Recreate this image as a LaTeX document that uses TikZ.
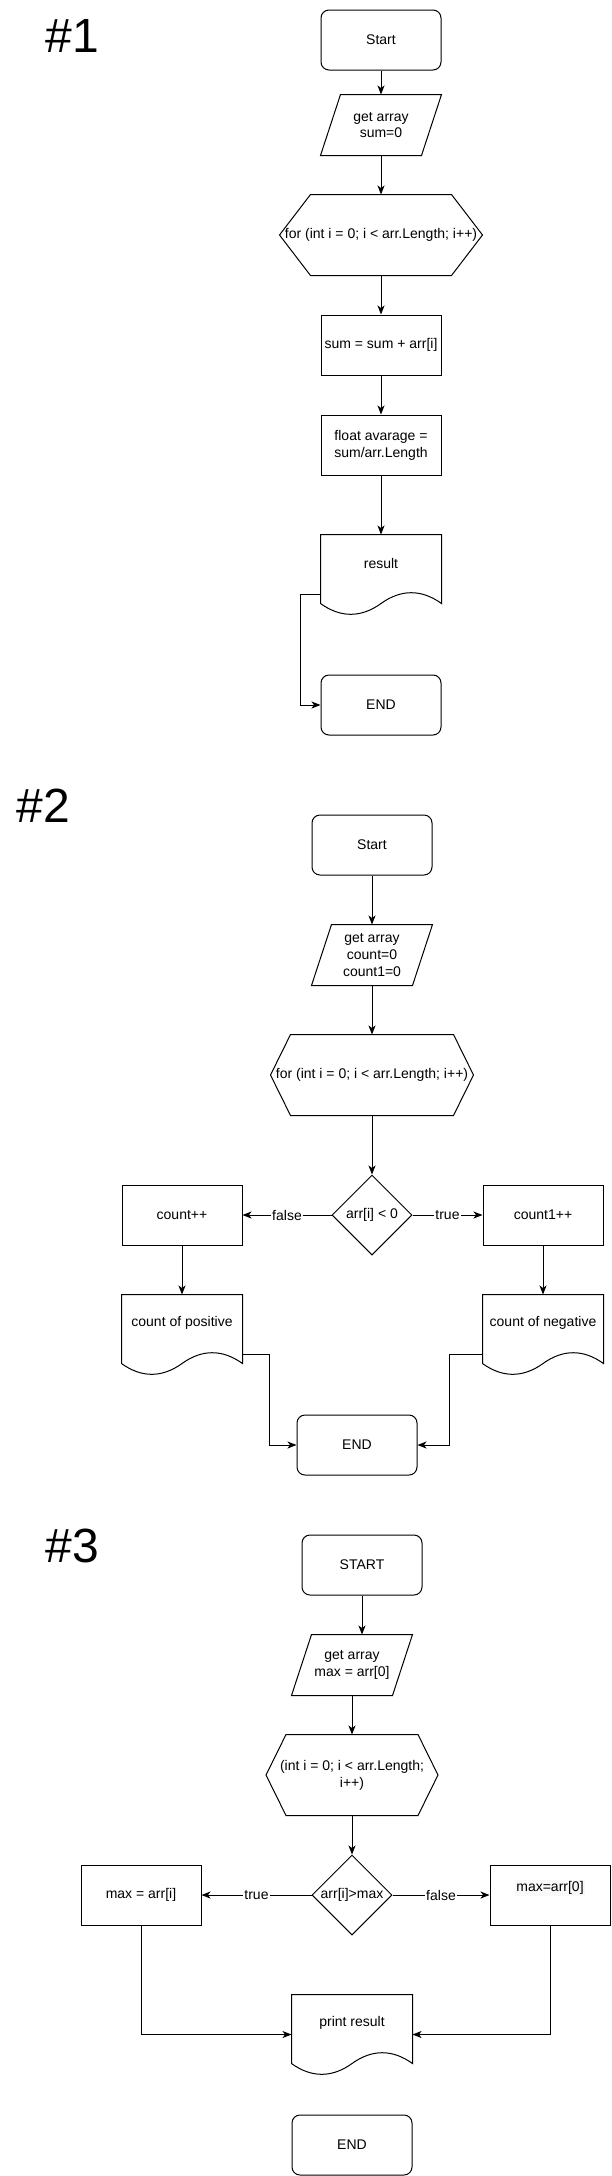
\documentclass[tikz,border=0pt]{standalone}
\usepackage{fontspec}
\setmainfont{Liberation Sans}
\usetikzlibrary{shapes.geometric, arrows.meta, calc}

\definecolor{hilite}{HTML}{F8F9FA}

\tikzstyle{terminal} = [rectangle, rounded corners=8pt, minimum width=120pt, minimum height=60pt, inner sep=2pt, align=center, draw=black]
\tikzstyle{process} = [rectangle, minimum width=120pt, minimum height=60pt, inner sep=2pt, align=center, draw=black]
\tikzstyle{io} = [rectangle, minimum width=120pt, minimum height=60pt, inner sep=2pt, align=center]
\tikzstyle{forloop} = [rectangle, minimum height=80pt, inner sep=2pt, align=center]
\tikzstyle{decision} = [diamond, minimum width=80pt, minimum height=80pt, inner sep=0pt, text centered, draw=black]
\tikzstyle{docbox} = [rectangle, minimum width=120pt, minimum height=56pt, inner sep=2pt, align=center]
\tikzstyle{arrow} = [->, >={Stealth[length=9pt, width=7pt, inset=2.5pt]}]
\tikzstyle{cond} = [midway, fill=white, inner sep=1pt]
\tikzstyle{title} = [anchor=base west, font=\fontsize{48pt}{56pt}\selectfont]

% outlines drawn round the text nodes
\newcommand{\ioshape}[1]{\draw ($(#1.north west)+(20,0)$) -- (#1.north east) -- ($(#1.south east)+(-20,0)$) -- (#1.south west) -- cycle;}
\newcommand{\hexshape}[2]{\draw (#1.west) -- ($(#1.north west)+(#2,0)$) -- ($(#1.north east)+(-#2,0)$) -- (#1.east) -- ($(#1.south east)+(-#2,0)$) -- ($(#1.south west)+(#2,0)$) -- cycle;}
\newcommand{\docshape}[1]{\draw (#1.north west) -- (#1.north east) -- ($(#1.south east)+(0,12)$)
  .. controls ($(#1.south east)+(-20,-2.4)$) and ($(#1.south)+(20,-2.4)$) .. ($(#1.south)+(0,12)$)
  .. controls ($(#1.south)+(-20,26.4)$) and ($(#1.south west)+(20,26.4)$) .. ($(#1.south west)+(0,12)$) -- cycle;}

\begin{document}
\begin{tikzpicture}[x=1pt, y=-1pt, line width=1pt, font=\fontsize{14pt}{16.8pt}\selectfont]

\useasboundingbox (0,0) rectangle (611,2176);
\fill[white] (0,0) rectangle (611,2176);

% #1 Nodes
\node (title1) [title] at (42,52) {\#1};
\node (start1) [terminal] at (381,40) {Start};
\node (input1) [io, node distance=85pt, below of=start1] {get array\\sum=0};
\node (loop1) [forloop, minimum width=202pt, node distance=110pt, below of=input1] {for (int i = 0; i < arr.Length; i++)};
\node (sum1) [process, node distance=110pt, below of=loop1] {sum = sum + arr[i]};
\node (avg1) [process, node distance=100pt, below of=sum1] {float avarage =\\sum/arr.Length};
\node (result1) [docbox, node distance=118pt, below of=avg1] {result};
\node (end1) [terminal, node distance=142pt, below of=result1] {END};
\ioshape{input1}
\hexshape{loop1}{31}
\docshape{result1}

% #1 Arrows
\draw [arrow] (start1) -- (input1);
\draw [arrow] (input1) -- (loop1);
\draw [arrow] (loop1) -- (sum1);
\draw [arrow] (sum1) -- (avg1);
\draw [arrow] (avg1) -- (result1);
\draw [arrow] ($(result1.north west)+(0,60)$) -- ++(-20,0) |- (end1.west);

% #2 Nodes
\node (title2) [title] at (13,822) {\#2};
\node (start2) [terminal] at (372,845) {Start};
\node (input2) [io, node distance=110pt, below of=start2] {get array\\count=0\\count1=0};
\node (loop2) [forloop, minimum width=202pt, node distance=120pt, below of=input2] {for (int i = 0; i < arr.Length; i++)};
\node (check2) [decision, node distance=140pt, below of=loop2] {arr[i] < 0};
\node (pos2) [process, node distance=190pt, left of=check2] {count++};
\node (neg2) [process, node distance=171pt, right of=check2] {count1++};
\node (outpos2) [docbox, node distance=108pt, below of=pos2] {count of positive};
\node (outneg2) [docbox, node distance=108pt, below of=neg2] {count of negative};
\node (end2) [terminal, node distance=230pt, below of=check2, xshift=-15pt] {END};
\ioshape{input2}
\hexshape{loop2}{20}
\docshape{outpos2}
\docshape{outneg2}

% #2 Arrows
\draw [arrow] (start2) -- (input2);
\draw [arrow] (input2) -- (loop2);
\draw [arrow] (loop2) -- (check2);
\draw [arrow] (check2) -- node[cond] {false} (pos2);
\draw [arrow] (check2) -- node[cond] {true} (neg2);
\draw [arrow] (pos2) -- (outpos2);
\draw [arrow] (neg2) -- (outneg2);
\draw [arrow] ($(outpos2.north east)+(0,60)$) -- ++(27,0) |- (end2.west);
\draw [arrow] ($(outneg2.north west)+(0,60)$) -- ++(-33,0) |- (end2.east);

% #3 Nodes
\node (title3) [title] at (42,1562) {\#3};
\node (start3) [terminal] at (362,1565) {START};
\node (input3) [io, node distance=100pt, below of=start3, xshift=-10pt] {get array\\max = arr[0]};
\node (loop3) [forloop, minimum width=171pt, node distance=110pt, below of=input3] {(int i = 0; i < arr.Length;\\i++)};
\node (check3) [decision, node distance=120pt, below of=loop3] {arr[i]>max};
\node (newmax3) [process, node distance=211pt, left of=check3] {max = arr[i]};
\node (keepmax3) [process, node distance=198pt, right of=check3, label={[fill=hilite, inner sep=1pt, yshift=7pt]center:max=arr[0]}] {};
\node (print3) [docbox, node distance=128pt, below of=check3] {print result};
\node (end3) [terminal, node distance=122pt, below of=print3] {END};
\ioshape{input3}
\hexshape{loop3}{20}
\docshape{print3}

% #3 Arrows
\draw [arrow] (start3) -- (start3 |- input3.north);
\draw [arrow] (input3) -- (loop3);
\draw [arrow] (loop3) -- (check3);
\draw [arrow] (check3) -- node[cond] {true} (newmax3);
\draw [arrow] (check3) -- node[cond] {false} (keepmax3);
\draw [arrow] (newmax3) |- ($(print3.north west)+(0,40)$);
\draw [arrow] (keepmax3) |- ($(print3.north east)+(0,40)$);

\end{tikzpicture}
\end{document}
